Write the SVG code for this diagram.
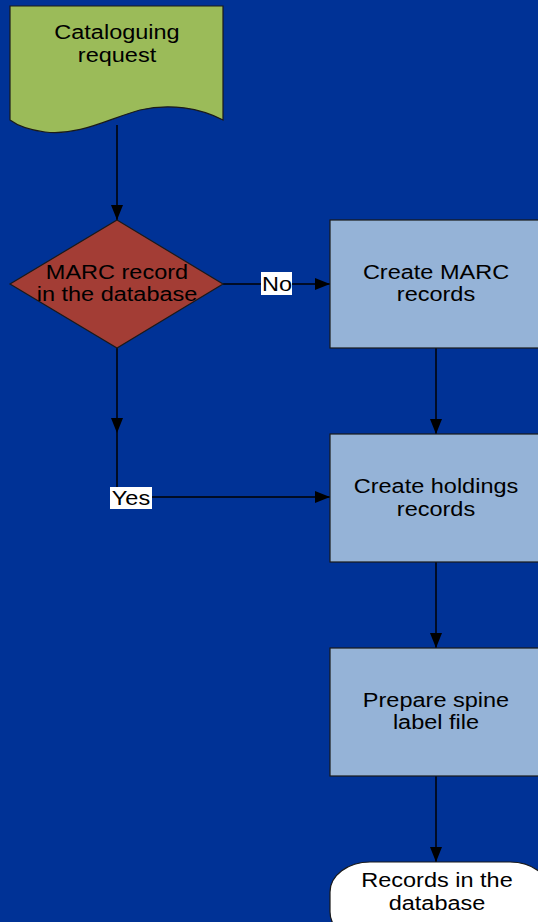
<svg xmlns="http://www.w3.org/2000/svg" width="538" height="922" viewBox="0 0 538 922">
<style>
.t{font-family:"Liberation Sans",Arial,sans-serif;font-size:20px;fill:#000;text-anchor:middle}
.c{stroke:#000;stroke-width:1.5;fill:none}
.box{fill:#95B3D7;stroke:#1a1a1a;stroke-width:1.2}
</style>
<defs>
<marker id="ah" markerWidth="15" markerHeight="12" refX="15" refY="6" orient="auto" markerUnits="userSpaceOnUse">
<path d="M0,0 L15,6 L0,12 Z" fill="#000"/>
</marker>
</defs>
<rect width="538" height="922" fill="#003296"/>
<g id="connectors">
<path class="c" d="M117,125 L117,220" marker-end="url(#ah)"/>
<path class="c" d="M223,284 L330,284" marker-end="url(#ah)"/>
<path class="c" d="M117,348 L117,433" marker-end="url(#ah)"/>
<path class="c" d="M117,433 L117,497 L330,497" marker-end="url(#ah)"/>
<path class="c" d="M436,348 L436,434" marker-end="url(#ah)"/>
<path class="c" d="M436,562 L436,648" marker-end="url(#ah)"/>
<path class="c" d="M436,776 L436,862" marker-end="url(#ah)"/>
<g id="label-no"><rect x="261" y="272" width="31" height="23" fill="#fff"/><text class="t" transform="translate(277,291) scale(1.175,1)">No</text></g>
<g id="label-yes"><rect x="110" y="487" width="42" height="22" fill="#fff"/><text class="t" transform="translate(131,505) scale(1.175,1)">Yes</text></g>
</g>
<g id="n1">
<path d="M10,6 L223,6 L223,120 C200,108 170,103 140,110 C110,118 80,136 45,132 C30,130 18,126 10,120 Z" fill="#9BBB59" stroke="#1a1a1a" stroke-width="1.2"/>
<text class="t" transform="translate(117,39) scale(1.175,1)">Cataloguing</text>
<text class="t" transform="translate(117,62) scale(1.175,1)">request</text>
</g>
<g id="n2">
<path d="M117,220 L223,284 L117,348 L10,284 Z" fill="#A33D35" stroke="#1a1a1a" stroke-width="1.2"/>
<text class="t" transform="translate(117,279) scale(1.175,1)">MARC record</text>
<text class="t" transform="translate(117,301) scale(1.175,1)">in the database</text>
</g>
<g id="n3">
<rect class="box" x="330" y="220" width="220" height="128"/>
<text class="t" transform="translate(436,279) scale(1.175,1)">Create MARC</text>
<text class="t" transform="translate(436,301) scale(1.175,1)">records</text>
</g>
<g id="n4">
<rect class="box" x="330" y="434" width="220" height="128"/>
<text class="t" transform="translate(436,493) scale(1.175,1)">Create holdings</text>
<text class="t" transform="translate(436,516) scale(1.175,1)">records</text>
</g>
<g id="n5">
<rect class="box" x="330" y="648" width="220" height="128"/>
<text class="t" transform="translate(436,707) scale(1.175,1)">Prepare spine</text>
<text class="t" transform="translate(436,729) scale(1.175,1)">label file</text>
</g>
<g id="n6">
<rect x="330" y="862" width="220" height="80" rx="40" ry="30" fill="#fff" stroke="#1a1a1a" stroke-width="1.2"/>
<text class="t" transform="translate(437,887) scale(1.175,1)">Records in the</text>
<text class="t" transform="translate(437,910) scale(1.175,1)">database</text>
</g>
</svg>
